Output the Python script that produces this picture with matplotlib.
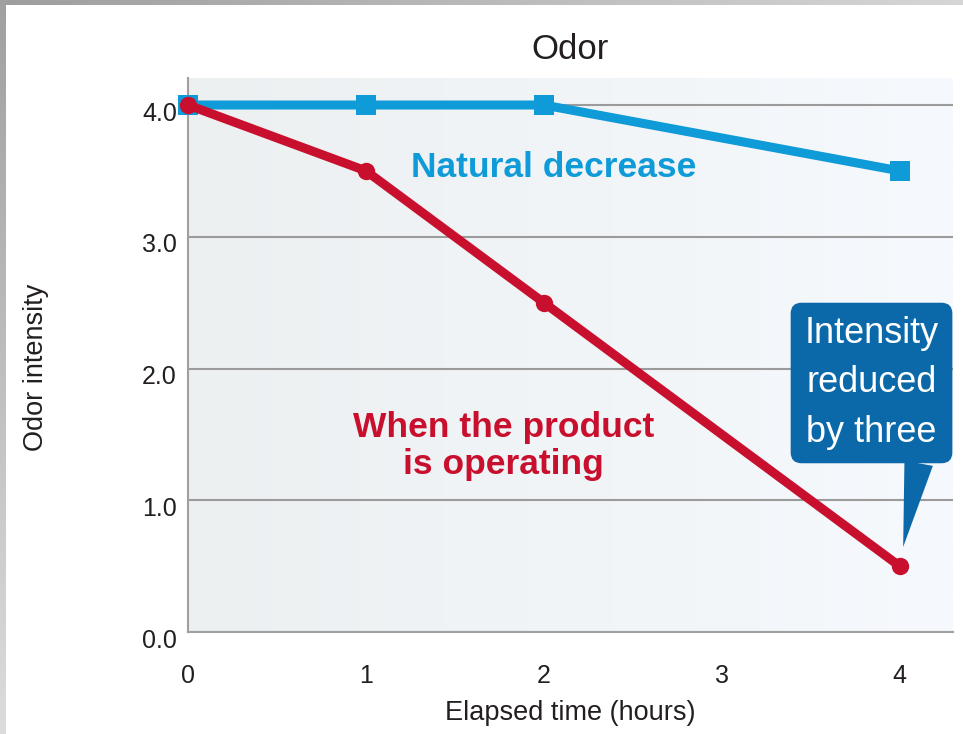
import numpy as np
import matplotlib.pyplot as plt
from matplotlib.colors import LinearSegmentedColormap
from matplotlib.transforms import ScaledTranslation

# data
hours = [0, 1, 2, 4]
natural = [4.0, 4.0, 4.0, 3.5]
operating = [4.0, 3.5, 2.5, 0.5]
xticks = [0, 1, 2, 3, 4]
yticks = [0.0, 1.0, 2.0, 3.0, 4.0]
ytick_labels = ['0.0', '1.0', '2.0', '3.0', '4.0']

blue = '#0f9ad8'
red = '#c8102e'
box_blue = '#0b69a9'
ink = '#231f20'

plt.rcParams['font.family'] = ['Liberation Sans', 'DejaVu Sans']

fig = plt.figure(figsize=(9.63, 7.34), dpi=100)

# grey screenshot frame on top and left
grad = np.linspace(0, 1, 256)
top = fig.add_axes([0, 1 - 5 / 734, 1, 5 / 734])
top.imshow(grad[None, :], aspect='auto',
           cmap=LinearSegmentedColormap.from_list('t', ['#9e9e9e', '#d6d6d6']))
top.axis('off')
left = fig.add_axes([0, 0, 5 / 963, 1])
left.imshow(grad[:, None], aspect='auto',
            cmap=LinearSegmentedColormap.from_list('l', ['#a0a0a0', '#dcdcdc']))
left.axis('off')

ax = fig.add_axes([188 / 963, 1 - 632 / 734, 765 / 963, 554 / 734])
xmax, ymax = 4.30, 4.205

# light background gradient of the plot area
bg = LinearSegmentedColormap.from_list('bg', ['#edf0f1', '#f6f9fd'])
ax.imshow(grad[None, :], extent=[0, xmax, 0, ymax], aspect='auto', cmap=bg, zorder=0)

ax.plot(hours, natural, color=blue, lw=6.5, marker='s', ms=14.5, mew=0,
        clip_on=False, zorder=3)
ax.plot(hours, operating, color=red, lw=6.5, marker='o', ms=12.5, mew=0,
        clip_on=False, zorder=4)

ax.set_xlim(0, xmax)
ax.set_ylim(0, ymax)
ax.set_xticks(xticks)
ax.set_yticks(yticks)
ax.set_yticklabels(ytick_labels)
ax.yaxis.grid(True, color='#9b9b9b', lw=1.5)
ax.tick_params(length=0, labelsize=18, labelcolor=ink)
ax.tick_params(axis='y', pad=8)
ax.tick_params(axis='x', pad=23)
for lab in ax.get_yticklabels():
    lab.set_transform(lab.get_transform() + ScaledTranslation(0, -6 / 100, fig.dpi_scale_trans))

for s in ['top', 'right']:
    ax.spines[s].set_visible(False)
for s in ['left', 'bottom']:
    ax.spines[s].set_color('#a0a0a0')
    ax.spines[s].set_linewidth(1.5)

ax.set_title('Odor', fontsize=25, color=ink, pad=14)
ax.set_xlabel('Elapsed time (hours)', fontsize=19.5, color=ink)
ax.xaxis.set_label_coords(0.5, -0.123)
ax.set_ylabel('Odor intensity', fontsize=19.5, color=ink)
ax.yaxis.set_label_coords(-0.182, 0.478)

ax.text(2.053, 3.453, 'Natural decrease', color=blue, fontsize=25.5,
        fontweight='bold', ha='center', va='baseline')
ax.text(1.772, 1.412, 'When the product\nis operating', color=red, fontsize=25.5,
        fontweight='bold', ha='center', va='center', linespacing=1.14)

ax.annotate('Intensity\nreduced\nby three', xy=(4, 0.5), xytext=(3.842, 1.89),
            ha='center', va='center', color='white', fontsize=26,
            linespacing=1.52,
            bbox=dict(boxstyle='round,pad=0.38,rounding_size=0.3', fc=box_blue, ec='none'),
            arrowprops=dict(arrowstyle='wedge,tail_width=0.8,shrink_factor=0.5',
                            fc=box_blue, ec='none', relpos=(0.87, 0.0),
                            shrinkA=0, shrinkB=14),
            zorder=5)

fig.savefig('out.png', dpi=100)
